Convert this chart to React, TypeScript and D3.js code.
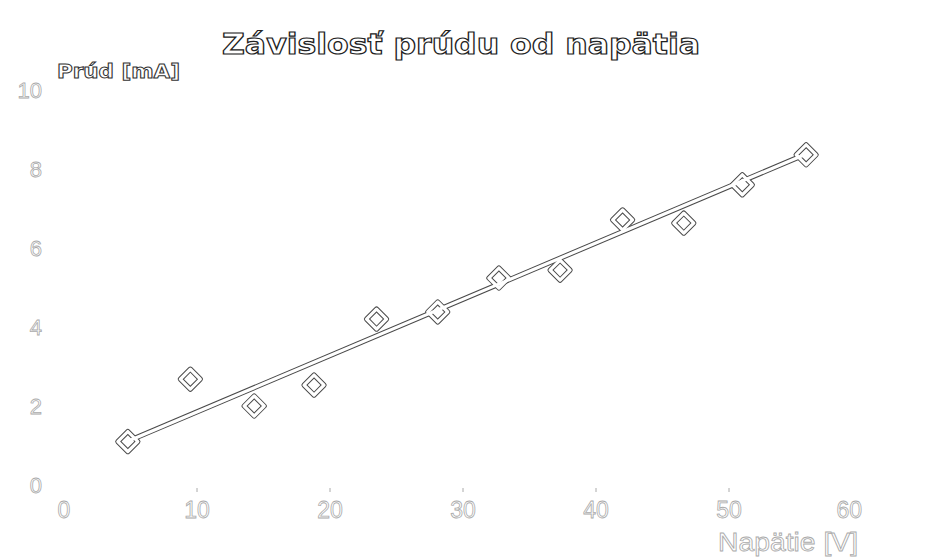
import React from "react";
import * as d3 from "d3";

const voltage = [4.8, 9.5, 14.3, 18.8, 23.5, 28.1, 32.7, 37.3, 42.0, 46.6, 51.0, 55.8];
const current = [1.1, 2.68, 2.0, 2.53, 4.2, 4.38, 5.24, 5.44, 6.71, 6.63, 7.6, 8.36];
const fitVoltage = [4.8, 55.8];
const fitCurrent = [1.11, 8.38];
const xTicks = [0, 10, 20, 30, 40, 50, 60];
const yTicks = [0, 2, 4, 6, 8, 10];
const titleText = "Závislosť prúdu od napätia";
const xTitle = "Napätie [V]";
const yTitle = "Prúd [mA]";

const W = 927;
const H = 557;

export default function App() {
  const x = d3.scaleLinear().domain([0, 60]).range([64, 862]);
  const y = d3.scaleLinear().domain([0, 10]).range([485, 90]);
  const pts = voltage.map((v, i) => [x(v), y(current[i])] as [number, number]);
  const fit = fitVoltage.map((v, i) => [x(v), y(fitCurrent[i])] as [number, number]);
  const line = d3.line<[number, number]>()(fit) || "";
  const sym = d3.symbol().type(d3.symbolSquare).size(200)() || "";
  const edge = "#4a4a4a";
  const faint = "#aaaaaa";

  const markers = (stroke: string, sw: number, fill: string) =>
    pts.map((p, i) => (
      <path
        key={i}
        d={sym}
        transform={`translate(${p[0]},${p[1]}) rotate(45)`}
        fill={fill}
        stroke={stroke}
        strokeWidth={sw}
        strokeLinejoin="round"
      />
    ));

  return (
    <svg width={W} height={H} style={{ position: "absolute", left: 0, top: 0, background: "#fff" }}>
      <rect width={W} height={H} fill="#fff" />
      <text
        x={222}
        y={54}
        textLength={478}
        lengthAdjust="spacingAndGlyphs"
        fontFamily="DejaVu Sans, sans-serif"
        fontWeight="bold"
        fontSize={28}
        fill="#fff"
        stroke="#222"
        strokeWidth={1.2}
      >
        {titleText}
      </text>
      <text
        x={57}
        y={78}
        textLength={123}
        lengthAdjust="spacingAndGlyphs"
        fontFamily="DejaVu Sans, sans-serif"
        fontWeight="bold"
        fontSize={19}
        fill="#fff"
        stroke="#333"
        strokeWidth={1}
      >
        {yTitle}
      </text>
      {yTicks.map((t) => (
        <text
          key={t}
          x={42}
          y={y(t)}
          dy="0.36em"
          textAnchor="end"
          fontFamily="Liberation Sans, Arial, sans-serif"
          fontSize={22}
          fill="#fff"
          stroke={faint}
          strokeWidth={0.8}
        >
          {t}
        </text>
      ))}
      {xTicks.map((t, i) => (
        <g key={t}>
          {i > 0 && i < xTicks.length - 1 && (
            <line x1={x(t)} x2={x(t)} y1={488} y2={492} stroke={faint} strokeWidth={1} />
          )}
          <text
            x={x(t)}
            y={510}
            dy="0.36em"
            textAnchor={i === xTicks.length - 1 ? "end" : "middle"}
            fontFamily="Liberation Sans, Arial, sans-serif"
            fontSize={23}
            fill="#fff"
            stroke={faint}
            strokeWidth={0.8}
          >
            {t}
          </text>
        </g>
      ))}
      <text
        x={718}
        y={551}
        textLength={140}
        lengthAdjust="spacingAndGlyphs"
        fontFamily="Liberation Sans, Arial, sans-serif"
        fontSize={25}
        fill="#fff"
        stroke={faint}
        strokeWidth={0.8}
      >
        {xTitle}
      </text>
      <g>
        <path d={line} fill="none" stroke={edge} strokeWidth={5.2} />
        {markers(edge, 5.2, "#fff")}
        <path d={line} fill="none" stroke="#fff" strokeWidth={3.2} />
        {markers("#fff", 3.2, "none")}
      </g>
    </svg>
  );
}
